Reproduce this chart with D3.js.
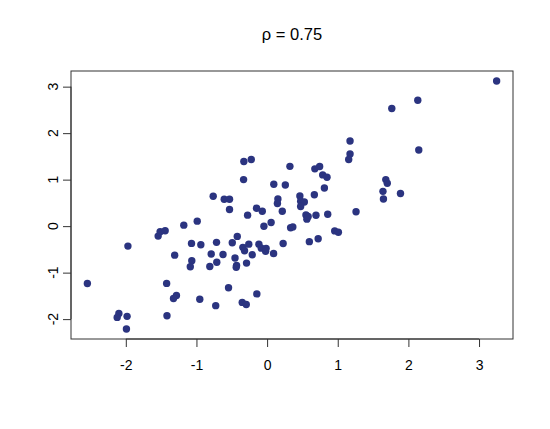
<!DOCTYPE html>
<html>
<head>
<meta charset="utf-8">
<script src="https://cdn.jsdelivr.net/npm/d3@7"></script>
<style>
  body { margin: 0; background: #fff; }
  text { font-family: "Liberation Sans", Arial, Helvetica, sans-serif; fill: #000; }
</style>
</head>
<body>
<div id="chart"></div>
<script>
var width = 550;
var height = 429;

// values
var xValues = [-2.544, -1.970, -1.542, -1.514, -1.443, -1.179, -0.989, -1.070, -0.938, -1.308,
               -1.066, -1.087, -1.422, -1.283, -1.325, -0.953, -2.098, -2.122, -1.982, -1.991,
               -1.417, -0.716, -0.493, -0.422, -0.343, -0.319, -0.259, -0.116, -0.082, -0.014,
               -0.021, -0.210, 0.092, 0.227, -0.791, -0.624, -0.712, -0.811, -0.454, -0.432,
               -0.437, -0.291, -0.546, -0.145, -0.727, -0.352, -0.295, 0.057, -0.045, -0.276,
               -0.149, -0.068, 0.215, 0.153, 0.146, -0.532, -0.607, -0.532, -0.763, -0.333,
               -0.329, -0.224, 0.095, 0.258, 0.323, 0.676, 0.744, 0.787, 0.848, 0.811,
               0.669, 0.464, 0.475, 0.527, 0.475, 0.550, 0.563, 0.581, 0.692, 0.858,
               1.259, 0.333, 0.364, 0.957, 1.009, 0.723, 0.598, 1.174, 1.174, 1.155,
               1.680, 1.701, 1.640, 1.647, 1.888, 1.765, 2.133, 2.147, 3.249];
var yValues = [-1.234, -0.429, -0.214, -0.120, -0.099, 0.021, 0.107, -0.371, -0.399, -0.624,
               -0.742, -0.874, -1.232, -1.492, -1.556, -1.571, -1.877, -1.963, -1.940, -2.214,
               -1.929, -0.349, -0.356, -0.221, -0.456, -0.531, -0.388, -0.388, -0.474, -0.478,
               -0.542, -0.617, -0.589, -0.375, -0.600, -0.611, -0.778, -0.868, -0.686, -0.847,
               -0.885, -0.795, -1.324, -1.457, -1.710, -1.640, -1.685, 0.079, -0.002, 0.236,
               0.386, 0.319, 0.319, 0.583, 0.486, 0.358, 0.577, 0.577, 0.643, 1.001,
               1.391, 1.434, 0.900, 0.885, 1.286, 1.232, 1.284, 1.102, 1.050, 0.819,
               0.675, 0.647, 0.536, 0.519, 0.422, 0.240, 0.150, 0.208, 0.234, 0.257,
               0.309, -0.034, -0.017, -0.103, -0.131, -0.270, -0.334, 1.830, 1.552, 1.434,
               1.001, 0.922, 0.748, 0.583, 0.701, 2.529, 2.709, 1.637, 3.123];
var xTicks = [-2, -1, 0, 1, 2, 3];
var yTicks = [-2, -1, 0, 1, 2, 3];
var title = "\u03C1 = 0.75";

var points = xValues.map(function(d, i){ return { x: d, y: yValues[i] }; });

var margin = { top: 71, right: 37, bottom: 90, left: 71 };
var plotW = width - margin.left - margin.right;
var plotH = height - margin.top - margin.bottom;

// R style: extend the data range by 4% on each side
function rRange(v){
    var ext = d3.extent(v);
    var pad = (ext[1] - ext[0]) * 0.04;
    return [ext[0] - pad, ext[1] + pad];
}

var x = d3.scaleLinear().domain(rRange(xValues)).range([0, plotW]);
var y = d3.scaleLinear().domain(rRange(yValues)).range([plotH, 0]);

var svg = d3.select("#chart")
    .append("svg")
    .attr("width", width)
    .attr("height", height);

var g = svg.append("g")
    .attr("transform", "translate(" + margin.left + "," + margin.top + ")");

// points
g.selectAll(".pt")
    .data(points)
    .enter()
        .append("circle")
        .attr("class", "pt")
        .attr("cx", function(d){ return x(d.x); })
        .attr("cy", function(d){ return y(d.y); })
        .attr("r", 3.7)
        .attr("fill", "#2b3480");

// box around the plot
g.append("rect")
    .attr("x", 0)
    .attr("y", 0)
    .attr("width", plotW)
    .attr("height", plotH)
    .attr("fill", "none")
    .attr("stroke", "#333")
    .attr("stroke-width", 1);

// bottom axis
var xAxis = g.append("g")
    .attr("transform", "translate(0," + plotH + ")")
    .call(d3.axisBottom(x).tickValues(xTicks).tickSize(8).tickPadding(13).tickFormat(d3.format("d")));
xAxis.select(".domain")
    .attr("d", "M" + x(xTicks[0]) + ",0H" + x(xTicks[xTicks.length - 1]))
    .attr("stroke", "#333");
xAxis.selectAll(".tick line").attr("stroke", "#333");
xAxis.selectAll("text")
    .attr("font-size", "14px")
    .attr("font-family", "Liberation Sans, Arial, sans-serif")
    .attr("fill", "#000")
    .text(function(d){ return d3.format("d")(d).replace("\u2212", "-"); });

// left axis, labels turned like R's las = 0
var yAxis = g.append("g")
    .call(d3.axisLeft(y).tickValues(yTicks).tickSize(8).tickFormat(""));
yAxis.select(".domain")
    .attr("d", "M0," + y(yTicks[0]) + "V" + y(yTicks[yTicks.length - 1]))
    .attr("stroke", "#333");
yAxis.selectAll(".tick line").attr("stroke", "#333");

g.selectAll(".ylab")
    .data(yTicks)
    .enter()
        .append("text")
        .attr("class", "ylab")
        .attr("transform", function(d){ return "translate(-13," + y(d) + ") rotate(-90)"; })
        .attr("text-anchor", "middle")
        .attr("font-size", "14px")
        .text(function(d){ return String(d); });

// title
svg.append("text")
    .attr("x", margin.left + plotW / 2)
    .attr("y", 40)
    .attr("text-anchor", "middle")
    .attr("font-size", "16.5px")
    .text(title);
</script>
</body>
</html>
